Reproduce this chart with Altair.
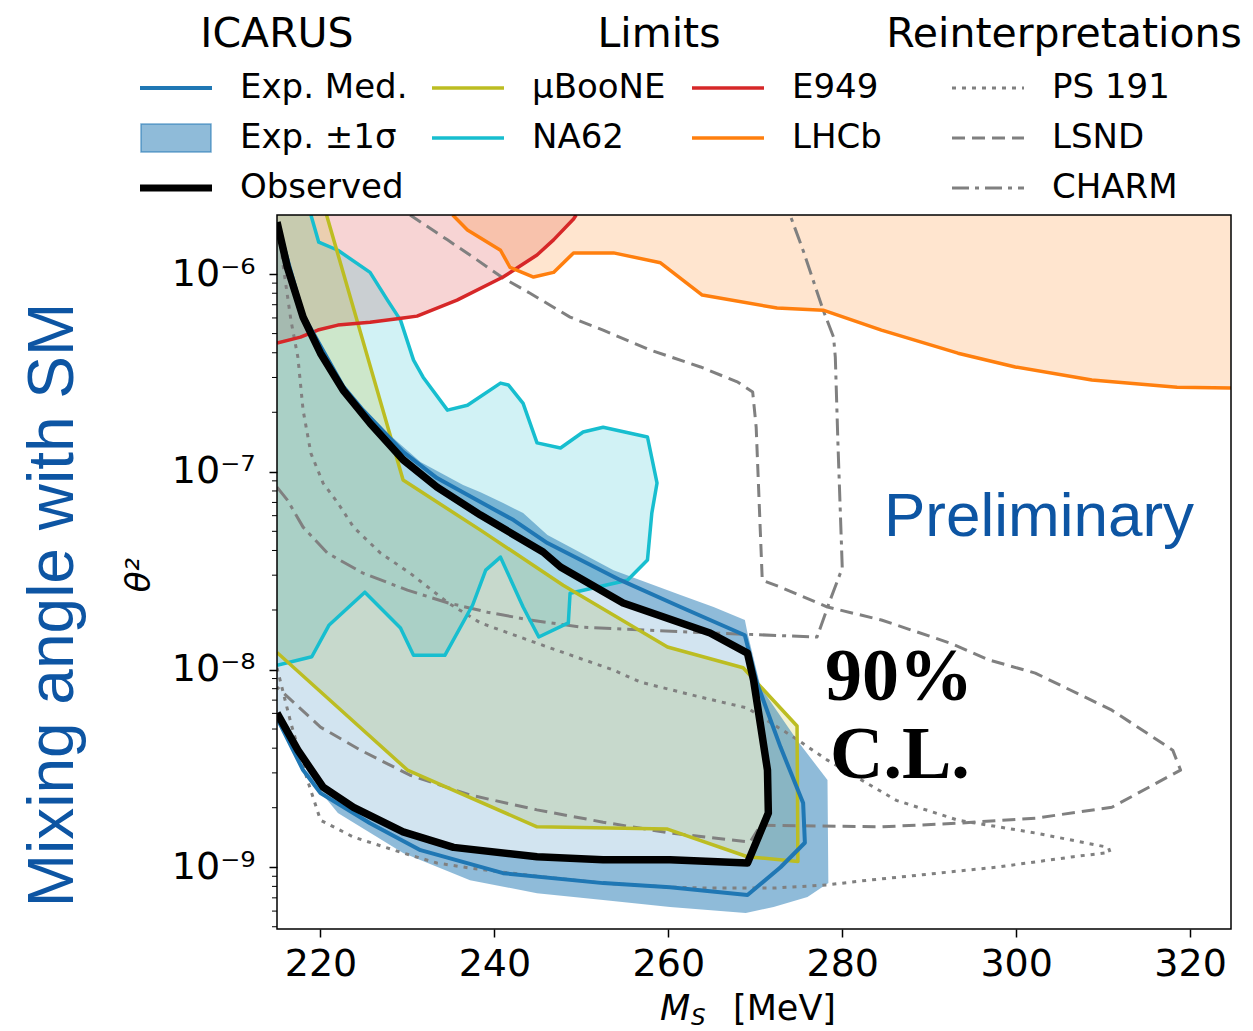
import altair as alt
import pandas as pd

# ---------------- values (M_S in MeV, theta^2) ----------------
X_LEFT, X_RIGHT = 215.0, 324.7
Y_BOTTOM, Y_TOP = 4.87e-10, 1.99e-6

lhcb_m = [235.2, 236.9, 240.7, 241.8, 244.5, 246.8, 249.1, 253.7, 259.1, 263.9,
          272.5, 277.8, 284.5, 293.3, 299.9, 308.7, 318.5, 324.7]
lhcb_t = [1.99e-6, 1.67e-6, 1.32e-6, 1.08e-6, 9.66e-7, 1.02e-6, 1.28e-6, 1.28e-6,
          1.14e-6, 7.83e-7, 6.73e-7, 6.57e-7, 5.21e-7, 3.98e-7, 3.39e-7, 2.91e-7,
          2.68e-7, 2.65e-7]

e949_m = [215.0, 217.7, 219.7, 222.0, 225.7, 229.5, 231.1, 235.7, 241.0, 244.9,
          246.8, 249.1, 249.4]
e949_t = [4.48e-7, 4.80e-7, 5.21e-7, 5.52e-7, 5.71e-7, 5.99e-7, 6.13e-7, 7.38e-7,
          9.66e-7, 1.25e-6, 1.49e-6, 1.90e-6, 1.99e-6]

na62_m = [218.9, 219.8, 222.0, 225.7, 227.7, 229.2, 230.7, 231.8, 234.6, 236.9,
          240.7, 241.6, 243.3, 244.9, 247.6, 250.2, 252.5, 257.6, 258.7, 258.1,
          257.6, 255.3, 248.7, 248.5, 245.1, 243.3, 240.7, 239.0, 237.5, 234.3,
          230.7, 229.2, 225.1, 221.0, 219.0, 215.0]
na62_t = [1.99e-6, 1.45e-6, 1.32e-6, 1.02e-6, 7.38e-7, 5.85e-7, 3.67e-7, 3.01e-7,
          2.05e-7, 2.17e-7, 2.81e-7, 2.75e-7, 2.22e-7, 1.40e-7, 1.32e-7, 1.59e-7,
          1.68e-7, 1.50e-7, 8.77e-8, 6.18e-8, 3.58e-8, 2.83e-8, 2.43e-8, 1.72e-8,
          1.46e-8, 2.07e-8, 3.70e-8, 3.18e-8, 2.12e-8, 1.18e-8, 1.18e-8, 1.62e-8,
          2.46e-8, 1.68e-8, 1.16e-8, 1.05e-8]

uboone_m = [220.7, 229.5, 238.4, 247.9, 259.9, 268.6, 274.8, 274.9, 269.1, 259.9,
            244.9, 230.0, 215.0]
uboone_t = [1.99e-6, 9.08e-8, 5.07e-8, 2.67e-8, 1.30e-8, 1.02e-8, 5.18e-9, 1.07e-9,
            1.13e-9, 1.56e-9, 1.60e-9, 3.10e-9, 1.22e-8]

obs_m = [215.0, 216.2, 218.0, 220.0, 222.6, 225.7, 229.5, 233.4, 238.4, 245.6,
         247.6, 254.8, 264.8, 269.1, 269.8, 271.4, 271.5, 269.1, 260.2, 252.5,
         244.9, 235.3, 229.5, 223.8, 220.3, 217.4, 215.0]
obs_t = [1.83e-6, 1.08e-6, 6.06e-7, 3.98e-7, 2.59e-7, 1.76e-7, 1.15e-7, 8.37e-8,
         6.04e-8, 3.93e-8, 3.30e-8, 2.17e-8, 1.53e-8, 1.21e-8, 8.84e-9, 3.10e-9,
         1.88e-9, 1.05e-9, 1.09e-9, 1.09e-9, 1.13e-9, 1.26e-9, 1.51e-9, 2.01e-9,
         2.54e-9, 3.91e-9, 6.02e-9]

med_m = [215.0, 218.0, 222.6, 224.9, 229.5, 233.4, 238.4, 242.2, 246.1, 254.5,
         261.4, 268.8, 270.2, 272.9, 275.5, 275.7, 272.9, 269.1, 260.2, 252.5,
         241.0, 231.5, 225.7, 220.0, 218.0, 215.0]
med_t = [1.83e-6, 6.21e-7, 2.71e-7, 2.05e-7, 1.26e-7, 9.29e-8, 7.03e-8, 5.70e-8,
         4.36e-8, 2.83e-8, 2.07e-8, 1.49e-8, 8.53e-9, 4.05e-9, 2.11e-9, 1.33e-9,
         1.00e-9, 7.23e-10, 7.93e-10, 8.31e-10, 9.33e-10, 1.22e-9, 1.67e-9, 2.37e-9,
         3.10e-9, 5.68e-9]

band_m = [215.0, 218.0, 222.6, 224.9, 227.7, 231.5, 236.4, 238.4, 241.0, 243.3,
          246.1, 253.7, 261.4, 265.2, 268.8, 269.1, 270.6, 274.8, 278.3, 278.4,
          276.0, 272.1, 268.9, 260.2, 252.5, 244.9, 237.2, 229.5, 222.0, 218.9,
          217.4, 215.0]
band_t = [1.83e-6, 6.06e-7, 2.65e-7, 2.05e-7, 1.57e-7, 1.12e-7, 8.57e-8, 7.89e-8,
          6.95e-8, 6.18e-8, 4.79e-8, 3.18e-8, 2.38e-8, 2.07e-8, 1.78e-8, 1.53e-8,
          8.15e-9, 4.39e-9, 2.76e-9, 8.31e-10, 7.06e-10, 6.29e-10, 5.86e-10, 6.29e-10,
          6.82e-10, 7.39e-10, 8.60e-10, 1.18e-9, 1.88e-9, 2.76e-9, 3.91e-9, 5.88e-9]

ps191_m = [215.3, 215.7, 216.6, 217.4, 218.0, 218.9, 220.3, 222.0, 223.8, 226.9,
           230.3, 234.7, 238.4, 246.1, 253.7, 256.8, 263.7, 269.1, 274.4, 278.3,
           286.2, 293.3, 302.2, 310.6, 310.8, 306.6, 297.7, 288.8, 282.1, 278.3,
           272.1, 264.5, 260.2, 252.5, 244.9, 237.2, 233.4, 229.5, 223.8, 220.0,
           218.5, 216.6, 215.0]
ps191_t = [1.57e-6, 1.11e-6, 5.85e-7, 3.80e-7, 2.05e-7, 1.24e-7, 8.77e-8, 6.95e-8,
           5.25e-8, 3.88e-8, 3.07e-8, 2.17e-8, 1.72e-8, 1.30e-8, 9.93e-9, 8.63e-9,
           7.25e-9, 6.38e-9, 4.55e-9, 3.48e-9, 2.18e-9, 1.73e-9, 1.49e-9, 1.26e-9,
           1.19e-9, 1.13e-9, 1.00e-9, 9.12e-10, 8.52e-10, 8.14e-10, 7.84e-10, 7.84e-10,
           7.93e-10, 8.31e-10, 9.00e-10, 9.90e-10, 1.05e-9, 1.18e-9, 1.42e-9, 1.73e-9,
           2.76e-9, 5.35e-9, 1.02e-8]

lsnd_m = [230.3, 234.6, 238.0, 241.0, 244.1, 248.7, 252.5, 257.9, 263.7, 268.0,
          269.7, 270.1, 270.8, 272.9, 278.3, 284.5, 292.4, 296.8, 302.2, 311.0,
          318.0, 318.9, 311.0, 302.2, 293.3, 284.5, 270.6, 269.4, 260.2, 252.5,
          244.9, 237.2, 230.3, 224.6, 220.0, 215.0]
lsnd_t = [1.99e-6, 1.49e-6, 1.18e-6, 9.55e-7, 8.00e-7, 6.06e-7, 5.21e-7, 4.13e-7,
          3.39e-7, 2.84e-7, 2.53e-7, 1.68e-7, 2.83e-8, 2.61e-8, 2.07e-8, 1.78e-8,
          1.36e-8, 1.12e-8, 9.59e-9, 6.23e-9, 3.91e-9, 3.10e-9, 2.01e-9, 1.77e-9,
          1.67e-9, 1.60e-9, 1.63e-9, 1.34e-9, 1.49e-9, 1.69e-9, 1.95e-9, 2.32e-9,
          2.92e-9, 3.91e-9, 5.11e-9, 8.15e-9]

charm_m = [215.0, 216.2, 218.0, 220.8, 224.9, 230.0, 234.7, 239.2, 244.1, 249.9,
           257.6, 265.2, 277.1, 278.6, 280.0, 279.5, 279.2, 279.0, 277.8, 275.6,
           274.0]
charm_t = [8.37e-8, 7.19e-8, 5.25e-8, 3.88e-8, 3.07e-8, 2.52e-8, 2.17e-8, 1.95e-8,
           1.78e-8, 1.64e-8, 1.58e-8, 1.53e-8, 1.46e-8, 2.24e-8, 3.26e-8, 1.40e-7,
           3.80e-7, 4.80e-7, 6.57e-7, 1.28e-6, 1.99e-6]

x_ticks = [220, 240, 260, 280, 300, 320]
y_ticks = [1e-9, 1e-8, 1e-7, 1e-6]
y_minor = [m * 10.0 ** e for e in (-10, -9, -8, -7) for m in range(2, 10)
           if Y_BOTTOM <= m * 10.0 ** e <= Y_TOP]

leg_labels = ["Exp. Med.", "Exp. ±1σ", "Observed", "µBooNE", "NA62", "E949", "LHCb",
              "PS 191", "LSND", "CHARM"]
leg_col = [0, 0, 0, 1, 1, 2, 2, 3, 3, 3]
leg_row = [0, 1, 2, 0, 1, 0, 1, 0, 1, 2]
leg_headers = ["ICARUS", "Limits", "Reinterpretations"]

# ---------------- styles ----------------
BLUE, OLIVE, CYAN, RED, ORANGE, GRAY = "#1f77b4", "#bcbd22", "#17becf", "#d62728", "#ff7f0e", "#808080"
DOT, DASH, DASHDOT = [4, 6], [13, 7], [17, 6, 4, 6]
TEXT_BLUE = "#0d55a3"
W, H = 954, 714

styles = {
    "Exp. Med.": dict(color=BLUE, width=4, dash=None),
    "Observed": dict(color="black", width=7, dash=None),
    "µBooNE": dict(color=OLIVE, width=3.5, dash=None),
    "NA62": dict(color=CYAN, width=3.5, dash=None),
    "E949": dict(color=RED, width=3.5, dash=None),
    "LHCb": dict(color=ORANGE, width=3.5, dash=None),
    "PS 191": dict(color=GRAY, width=3, dash=DOT),
    "LSND": dict(color=GRAY, width=3, dash=DASH),
    "CHARM": dict(color=GRAY, width=3, dash=DASHDOT),
}

# ---------------- scales / encodings ----------------
xs = alt.Scale(domain=[X_LEFT, X_RIGHT], nice=False, zero=False)
ys = alt.Scale(type="log", domain=[Y_BOTTOM, Y_TOP], nice=False)
xaxis = alt.Axis(values=x_ticks, tickSize=8, tickWidth=1.5, tickColor="black",
                 labelFont="DejaVu Sans", labelFontSize=38, labelColor="black",
                 labelPadding=8, domain=False, grid=False, title=None, labelFlush=False)
yaxis = alt.Axis(values=y_ticks, tickSize=8, tickWidth=1.5, tickColor="black",
                 labelFont="DejaVu Sans", labelFontSize=38, labelColor="black",
                 labelPadding=14, domain=False, grid=False, title=None, labelFlush=False,
                 labelExpr="datum.value > 5e-7 ? '10⁻⁶' : datum.value > 5e-8 ? '10⁻⁷' : "
                           "datum.value > 5e-9 ? '10⁻⁸' : '10⁻⁹'")
X = alt.X("m:Q", scale=xs, axis=xaxis)
Y = alt.Y("t:Q", scale=ys, axis=yaxis)
O = alt.Order("i:Q")


def frame(ms, ts):
    return pd.DataFrame({"m": ms, "t": ts, "i": list(range(len(ms)))})


def poly_fill(ms, ts, color, op):
    return alt.Chart(frame(ms, ts)).mark_line(
        fill=color, fillOpacity=op, strokeOpacity=0, strokeWidth=0, clip=True
    ).encode(X, Y, O)


def curve(ms, ts, color, width, dash=None):
    kw = dict(color=color, strokeWidth=width, clip=True, strokeJoin="round", strokeCap="butt")
    if dash:
        kw["strokeDash"] = dash
    return alt.Chart(frame(ms, ts)).mark_line(**kw).encode(X, Y, O)


one = pd.DataFrame({"a": [0]})


def label(text, x, y, size, font="DejaVu Sans", color="black", weight="normal",
          style="normal", align="left", baseline="middle", angle=0):
    return alt.Chart(one).mark_text(
        text=text, font=font, fontSize=size, color=color, fontWeight=weight,
        fontStyle=style, align=align, baseline=baseline, angle=angle
    ).encode(x=alt.value(x), y=alt.value(y))


layers = []
# filled regions (excluded regions extend to the top of the plot)
layers.append(poly_fill(e949_m + [X_LEFT], e949_t + [Y_TOP], RED, 0.2))
layers.append(poly_fill(lhcb_m + [X_RIGHT], lhcb_t + [Y_TOP], ORANGE, 0.2))
layers.append(poly_fill(na62_m + [X_LEFT], na62_t + [Y_TOP], CYAN, 0.2))
layers.append(poly_fill(uboone_m + [X_LEFT], uboone_t + [Y_TOP], OLIVE, 0.2))
layers.append(poly_fill(obs_m, obs_t, BLUE, 0.2))
# +-1 sigma band: outer contour followed by the observed contour reversed (ring)
layers.append(poly_fill(band_m + obs_m[::-1], band_t + obs_t[::-1], BLUE, 0.5))

# reinterpretation lines
layers.append(curve(ps191_m, ps191_t, GRAY, 3, DOT))
layers.append(curve(lsnd_m, lsnd_t, GRAY, 3, DASH))
layers.append(curve(charm_m, charm_t, GRAY, 3, DASHDOT))
# limit lines
layers.append(curve(na62_m, na62_t, CYAN, 3.5))
layers.append(curve(uboone_m, uboone_t, OLIVE, 3.5))
layers.append(curve(e949_m, e949_t, RED, 3.5))
layers.append(curve(lhcb_m, lhcb_t, ORANGE, 3.5))
# ICARUS lines
layers.append(curve(med_m, med_t, BLUE, 4))
layers.append(curve(obs_m, obs_t, "black", 7.5))

# minor ticks on the log axis
layers.append(alt.Chart(pd.DataFrame({"t": y_minor})).mark_rule(color="black", strokeWidth=1)
              .encode(y=Y, x=alt.value(-5), x2=alt.value(0)))
# plot frame
layers.append(alt.Chart(one).mark_rect(fillOpacity=0, stroke="black", strokeWidth=1.5)
              .encode(x=alt.value(0), x2=alt.value(W), y=alt.value(0), y2=alt.value(H)))

# annotations
layers.append(label("Preliminary", 762, 321, 62, font="Liberation Sans", color=TEXT_BLUE,
                    align="center", baseline="alphabetic"))
layers.append(label("90%", 548, 485, 74, font="Liberation Serif", weight="bold",
                    baseline="alphabetic"))
layers.append(label("C.L.", 553, 563, 74, font="Liberation Serif", weight="bold",
                    baseline="alphabetic"))
layers.append(label("Mixing angle with SM", -204, 390, 64, font="Liberation Sans",
                    color=TEXT_BLUE, align="center", baseline="alphabetic", angle=270))
layers.append(label("θ²", -137, 360, 34, style="italic", align="center", angle=270))
# x-axis title  M_S [MeV]
layers.append(label("M", 383, 805, 35, style="italic", baseline="alphabetic"))
layers.append(label("S", 414, 810, 23, style="italic", baseline="alphabetic"))
layers.append(label("[MeV]", 456, 805, 35, baseline="alphabetic"))

# legend
COL_X = [-137, 155, 415, 675]
ROW_Y = [-127, -77, -27]
SW_LEN, TXT_DX = 72, 100
HEAD_X, HEAD_Y = [0, 382, 787], -168
for htxt, hx in zip(leg_headers, HEAD_X):
    layers.append(label(htxt, hx, HEAD_Y, 41, align="center", baseline="alphabetic"))
for lab, c, r in zip(leg_labels, leg_col, leg_row):
    x0, y0 = COL_X[c], ROW_Y[r]
    if lab == "Exp. ±1σ":
        layers.append(alt.Chart(one).mark_rect(fill=BLUE, fillOpacity=0.5, stroke=BLUE,
                                               strokeOpacity=0.6, strokeWidth=1.5)
                      .encode(x=alt.value(x0 + 1), x2=alt.value(x0 + SW_LEN - 1),
                              y=alt.value(y0 - 14), y2=alt.value(y0 + 14)))
    else:
        st = styles[lab]
        kw = dict(color=st["color"], strokeWidth=st["width"], strokeCap="butt")
        if st["dash"]:
            kw["strokeDash"] = st["dash"]
        layers.append(alt.Chart(one).mark_rule(**kw)
                      .encode(x=alt.value(x0), x2=alt.value(x0 + SW_LEN), y=alt.value(y0)))
    layers.append(label(lab, x0 + TXT_DX, y0, 34))

chart = alt.layer(*layers).properties(
    width=W, height=H,
    autosize=alt.AutoSizeParams(type="none"),
    padding={"left": 269, "top": 207, "right": 14, "bottom": 102},
    background="white",
).configure_view(strokeWidth=0)

chart.save("out.html", embed_options={"renderer": "svg", "actions": False})
